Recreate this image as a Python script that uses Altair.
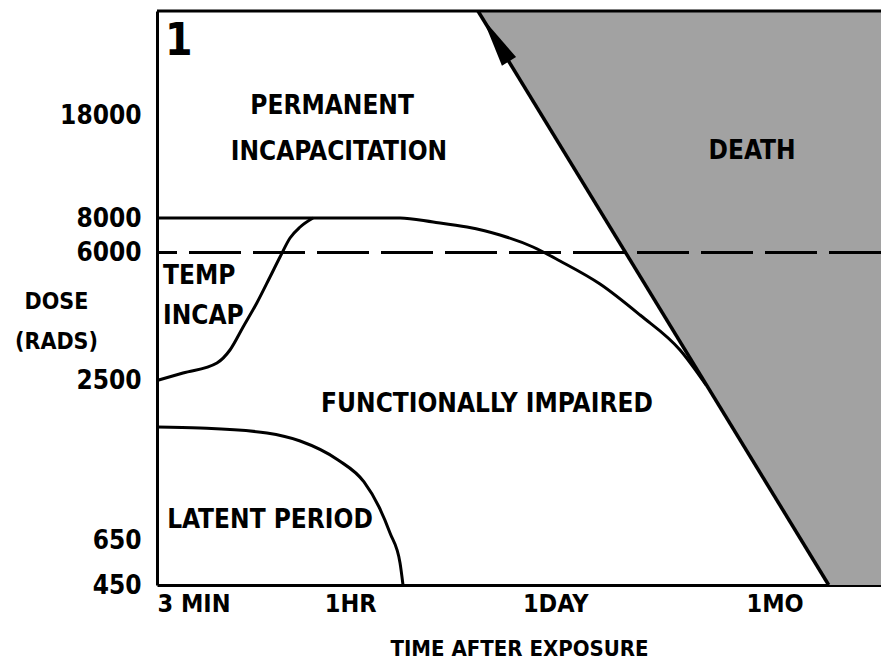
import altair as alt
import pandas as pd

# ---------------- data (time in minutes, dose in rads) ----------------
x_tick_minutes = [3, 60, 1440, 43200]
x_tick_labels = ["3 MIN", "1HR", "1DAY", "1MO"]
y_tick_doses = [450, 650, 2500, 6000, 8000, 18000]

# schematic (non-uniform) dose axis: breakpoints of the drawn scale
y_scale_doses = [450, 650, 2500, 6000, 8000, 18000, 28000]
time_domain = [3, 225000]

# temporary incapacitation boundary (rises from 2500 to 8000)
s_curve_time = [3, 4.49, 7.6, 9.3, 11.4, 14.1, 17.3, 20.2, 23.6, 27.6, 33.7]
s_curve_dose = [2500, 2706, 2979, 3334, 3963, 4619, 5330, 5877, 6841, 7478, 8000]

# permanent incapacitation boundary
upper_time = [3, 33.7, 70, 130, 217, 367, 612, 1021, 1552, 2886, 5366, 9979, 14930]
upper_dose = [8000, 8000, 8010, 8000, 7768, 7478, 7014, 6319, 5768, 5139, 4291, 3334, 2448]

# latent period boundary
latent_time = [3, 5.85, 16.5, 27.6, 49.7, 74.3, 93.8, 111.2, 129.9, 136]
latent_dose = [1961, 1949, 1891, 1798, 1578, 1323, 1033, 731, 548, 450]

# death boundary
death_time = [435, 100000]
death_dose = [28000, 450]

threshold_dose = [6000]
top_dose = [28000]

# arrow head at top of death boundary
arrow_time = [575]
arrow_dose = [25211]

# region labels
center_labels = ["PERMANENT", "INCAPACITATION", "DEATH", "FUNCTIONALLY IMPAIRED", "LATENT PERIOD"]
center_time = [45.3, 50.4, 30466, 500, 17.3]
center_dose = [18865, 14408, 14505, 2227, 882]

left_labels = ["TEMP", "INCAP"]
left_time = [3.29, 3.29]
left_dose = [5357, 4264]

panel_label = ["1"]
panel_time = [3.4]
panel_dose = [25019]

# ---------------- styling ----------------
FONT = "DejaVu Sans Condensed, DejaVu Sans, sans-serif"
W, H = 724, 574

x_scale = alt.Scale(type="log", domain=time_domain, nice=False)
y_scale = alt.Scale(type="linear", domain=y_scale_doses,
                    range=[574, 529, 369.5, 241.5, 207, 104, 0],
                    nice=False, zero=False)


def X(field, axis=alt.Undefined):
    return alt.X(field, type="quantitative", scale=x_scale, axis=axis)


def Y(field, axis=alt.Undefined):
    return alt.Y(field, type="quantitative", scale=y_scale, axis=axis)


label_expr = ""
for v, t in zip(x_tick_minutes, x_tick_labels):
    label_expr += f"datum.value == {v} ? '{t}' : "
label_expr += "''"

x_axis = alt.Axis(values=x_tick_minutes, labelExpr=label_expr, title="TIME AFTER EXPOSURE",
                  grid=False, ticks=False, domainColor="black", domainWidth=3,
                  labelFont=FONT, labelFontSize=25, labelFontWeight="bold", labelColor="black",
                  labelPadding=6, labelOverlap=False, labelFlush=True,
                  titleFont=FONT, titleFontSize=22, titleFontWeight="bold", titleColor="black",
                  titleBaseline="alphabetic", titleY=70)

y_axis = alt.Axis(values=y_tick_doses, format="d", title=["DOSE", "(RADS)"],
                  grid=False, ticks=False, domainColor="black", domainWidth=3,
                  labelFont=FONT, labelFontSize=26, labelFontWeight="bold", labelColor="black",
                  labelPadding=16, labelOverlap=False,
                  titleFont=FONT, titleFontSize=23, titleFontWeight="bold", titleColor="black",
                  titleAngle=0, titleAlign="center", titleBaseline="top",
                  titleX=-101, titleY=279, titleLineHeight=40)

# ---------------- tables ----------------
death_df = pd.DataFrame({"dose": death_dose, "t": death_time,
                         "t_end": [time_domain[1]] * len(death_time)})
s_df = pd.DataFrame({"t": s_curve_time, "dose": s_curve_dose})
up_df = pd.DataFrame({"t": upper_time, "dose": upper_dose})
lat_df = pd.DataFrame({"t": latent_time, "dose": latent_dose})
dl_df = pd.DataFrame({"t": death_time, "dose": death_dose})
arrow_df = pd.DataFrame({"t": arrow_time, "dose": arrow_dose})
cl_df = pd.DataFrame({"label": center_labels, "t": center_time, "dose": center_dose})
ll_df = pd.DataFrame({"label": left_labels, "t": left_time, "dose": left_dose})
pl_df = pd.DataFrame({"label": panel_label, "t": panel_time, "dose": panel_dose})

# ---------------- layers ----------------
death_area = alt.Chart(death_df).mark_area(orient="horizontal", color="#a2a2a2").encode(
    y=Y("dose", axis=y_axis), x=X("t", axis=x_axis), x2="t_end")

dashed = alt.Chart(pd.DataFrame({"dose": threshold_dose})).mark_rule(
    color="black", strokeWidth=3, strokeDash=[52, 12]).encode(y=Y("dose"))

top_border = alt.Chart(pd.DataFrame({"dose": top_dose})).mark_rule(
    color="black", strokeWidth=3).encode(y=Y("dose"))

upper = alt.Chart(up_df).mark_line(color="black", strokeWidth=3, interpolate="monotone").encode(
    x=X("t"), y=Y("dose"))

s_curve = alt.Chart(s_df).mark_line(color="black", strokeWidth=3, interpolate="monotone").encode(
    x=X("t"), y=Y("dose"))

latent = alt.Chart(lat_df).mark_line(color="black", strokeWidth=3, interpolate="monotone").encode(
    x=X("t"), y=Y("dose"))

death_line = alt.Chart(dl_df).mark_line(color="black", strokeWidth=3.5).encode(
    x=X("t"), y=Y("dose"))

arrow = alt.Chart(arrow_df).mark_point(
    shape="M0,-1L0.33,1L-0.33,1Z", size=2500, filled=True, color="black",
    opacity=1, angle=328.6).encode(x=X("t"), y=Y("dose"))

center_text = alt.Chart(cl_df).mark_text(
    font=FONT, fontSize=26, fontWeight="bold", color="black", align="center",
    baseline="middle").encode(x=X("t"), y=Y("dose"), text="label:N")

left_text = alt.Chart(ll_df).mark_text(
    font=FONT, fontSize=26, fontWeight="bold", color="black", align="left",
    baseline="middle").encode(x=X("t"), y=Y("dose"), text="label:N")

panel_text = alt.Chart(pl_df).mark_text(
    font=FONT, fontSize=44, fontWeight="bold", color="black", align="left",
    baseline="middle").encode(x=X("t"), y=Y("dose"), text="label:N")

chart = alt.layer(
    death_area, dashed, top_border, upper, s_curve, latent, death_line, arrow,
    center_text, left_text, panel_text
).properties(
    width=W, height=H,
    padding={"left": 149, "top": 3, "right": 0, "bottom": 79},
    autosize=alt.AutoSizeParams(type="none"),
    background="white",
).configure_view(stroke=None)

chart.save("out.html", embed_options={"renderer": "svg", "actions": False})
